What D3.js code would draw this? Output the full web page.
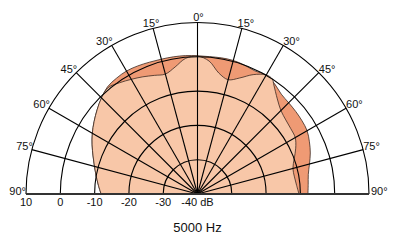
<!DOCTYPE html>
<html>
<head>
<meta charset="utf-8">
<script src="https://cdn.jsdelivr.net/npm/d3@7"></script>
<style>
  html, body { margin: 0; padding: 0; background: #fff; }
  svg { display: block; }
  text { font-family: "Liberation Sans", Arial, sans-serif; fill: #111; }
</style>
</head>
<body>
<svg id="chart" width="399" height="249"></svg>
<script>
// ---- data ----
const title = "5000 Hz";
const angleTicks = [-90, -75, -60, -45, -30, -15, 0, 15, 30, 45, 60, 75, 90];
const ringValues = [10, 0, -10, -20, -30];
const ringLabels = ["10", "0", "-10", "-20", "-30"];
const centerLabel = "-40 dB";
// inner (light) curve: angle in degrees, level in dB
const lightAngles = [-90,-85,-80,-75,-70,-65,-60,-55,-50,-45,-40,-35,-30,-25,-20,-15,-10,-5,0,5,10,15,20,25,30,33,35,40,45,50,55,60,65,70,75,80,85,90];
const lightValues = [-11.9,-11.0,-10.0,-8.9,-7.6,-6.1,-4.6,-3.2,-1.8,-0.4,0.5,-0.4,-1.4,-2.3,-3.2,-3.8,-2.4,-0.3,0.2,-1.1,-4.2,-5.5,-4.0,-1.6,0.1,0.0,-1.2,-3.8,-5.6,-6.4,-6.8,-7.1,-8.4,-10.0,-11.2,-11.3,-11.0,-10.4];
// outer (dark) curve
const darkAngles = [-90,-85,-80,-75,-70,-65,-60,-55,-50,-45,-40,-35,-30,-25,-20,-15,-10,-5,0,5,10,15,20,25,30,35,40,45,50,55,60,65,70,75,80,85,90];
const darkValues = [-11.9,-11.0,-10.0,-8.9,-7.6,-6.1,-4.6,-3.2,-1.8,-0.4,0.8,1.2,1.4,1.2,0.9,0.7,0.6,0.5,0.3,0.2,0.3,0.3,0.0,-0.4,0.1,-0.8,-2.0,-2.4,-2.6,-2.8,-3.1,-4.0,-5.0,-6.2,-7.2,-7.6,-7.8];

// ---- layout ----
const cx = 197.5, cy = 194, R = 171.5;
const rad = d => d * Math.PI / 180;
const r = d3.scaleLinear().domain([-40, 10]).range([0, R]);

const svg = d3.select("#chart");
const g = svg.append("g").attr("transform", `translate(${cx},${cy})`);

const curve = d3.lineRadial()
  .angle(d => rad(d[0]))
  .radius(d => r(d[1]))
  .curve(d3.curveCatmullRom.alpha(0.5));

const darkData = darkAngles.map((a, i) => [a, darkValues[i]]);
const lightData = lightAngles.map((a, i) => [a, lightValues[i]]);

g.append("path")
  .attr("d", curve(darkData) + "Z")
  .attr("fill", "#ef9a74")
  .attr("stroke", "#3b2a22")
  .attr("stroke-width", 0.8);

g.append("path")
  .attr("d", curve(lightData) + "Z")
  .attr("fill", "#f8c7a8")
  .attr("stroke", "#3b2a22")
  .attr("stroke-width", 0.8);

// rings
ringValues.forEach(v => {
  const p = d3.path();
  p.moveTo(-r(v), 0);
  p.arc(0, 0, r(v), Math.PI, 2 * Math.PI);
  g.append("path").attr("d", p.toString())
    .attr("fill", "none").attr("stroke", "#000").attr("stroke-width", 1.1);
});

// radial lines
angleTicks.forEach(a => {
  g.append("line")
    .attr("x1", 0).attr("y1", 0)
    .attr("x2", R * Math.sin(rad(a)))
    .attr("y2", -R * Math.cos(rad(a)))
    .attr("stroke", "#000").attr("stroke-width", 1.1);
});

// baseline
g.append("line")
  .attr("x1", -R).attr("x2", R).attr("y1", 0).attr("y2", 0)
  .attr("stroke", "#333").attr("stroke-width", 2.2);

// angle labels
angleTicks.forEach(a => {
  const ex = R * Math.sin(rad(a)), ey = -R * Math.cos(rad(a));
  const t = g.append("text").attr("font-size", 11).text(Math.abs(a) + "°");
  if (a === 0) {
    t.attr("x", ex + 1).attr("y", ey - 2).attr("text-anchor", "middle");
  } else if (Math.abs(a) === 15) {
    t.attr("x", ex + (a < 0 ? -2 : 4)).attr("y", ey - 1).attr("text-anchor", "middle");
  } else if (a < 0) {
    t.attr("x", ex + (a === -90 ? 0 : 1)).attr("y", ey + (a === -90 ? 1 : 0)).attr("text-anchor", "end");
  } else {
    t.attr("x", ex + (a === 90 ? 2 : 0)).attr("y", ey + (a === 90 ? 1 : 0)).attr("text-anchor", "start");
  }
});

// dB labels
ringValues.forEach((v, i) => {
  g.append("text")
    .attr("x", -r(v)).attr("y", 11.5)
    .attr("text-anchor", "middle").attr("font-size", 11)
    .text(ringLabels[i]);
});
g.append("text").attr("x", 0).attr("y", 11.5)
  .attr("text-anchor", "middle").attr("font-size", 11).text(centerLabel);

// title
svg.append("text")
  .attr("x", cx).attr("y", 231.5)
  .attr("text-anchor", "middle").attr("font-size", 13)
  .text(title);
</script>
</body>
</html>
